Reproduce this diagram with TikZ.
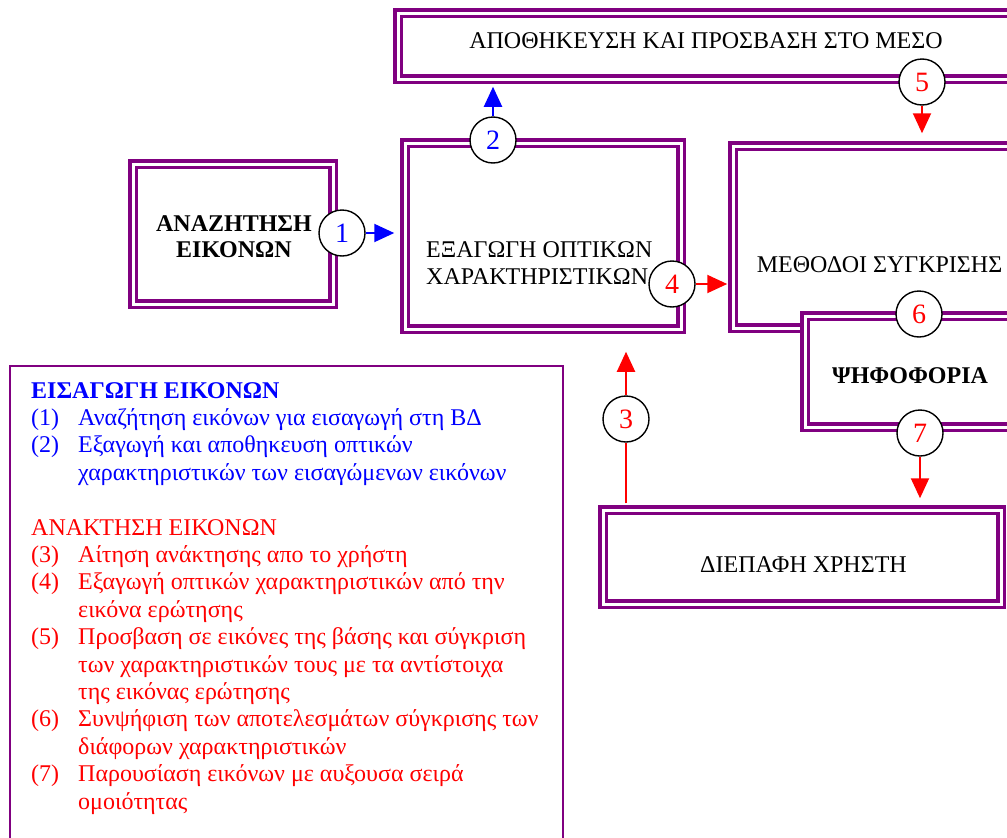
\documentclass[tikz,border=0pt]{standalone}
\usepackage{fontspec}
\setmainfont{Liberation Serif}
\usetikzlibrary{arrows.meta}

\definecolor{boxpurple}{RGB}{128,0,128}
\definecolor{flowblue}{RGB}{0,0,255}
\definecolor{flowred}{RGB}{255,0,0}

\begin{document}
\begin{tikzpicture}[x=1pt,y=-1pt,
    tribox/.style={draw=boxpurple,double=white,line width=3.5pt,
      double distance=3pt,fill=white,inner sep=0pt},
    boxtext/.style={font=\fontsize{24}{27}\selectfont,inner sep=0pt},
    numcirc/.style={circle,draw=black,line width=1.4pt,fill=white,
      minimum size=46pt,inner sep=0pt,font=\fontsize{28}{28}\selectfont},
    legtext/.style={anchor=base west,inner sep=0pt,
      font=\fontsize{24}{27}\selectfont},
    blueflow/.style={flowblue,line width=2pt,-{Triangle[width=18pt,length=20pt]}},
    redflow/.style={flowred,line width=2pt,-{Triangle[width=18pt,length=20pt]}}]
    \useasboundingbox (0,0) rectangle (1007,838);
    \clip (0,0) rectangle (1007,838);

    % boxes
    \node[tribox,minimum width=620pt,minimum height=66pt] (store) at (708,46) {};
    \node[tribox,minimum width=200pt,minimum height=140pt] (search) at (233,234) {};
    \node[tribox,minimum width=276pt,minimum height=186pt] (extract) at (543,236) {};
    \node[tribox,minimum width=293pt,minimum height=182pt] (compare) at (879.5,237) {};
    \node[tribox,minimum width=210pt,minimum height=111pt] (vote) at (910,371.5) {};
    \node[tribox,minimum width=398pt,minimum height=94pt] (ui) at (802,557) {};

    \node[boxtext] (storetxt) at (706,40.5) {ΑΠΟΘΗΚΕΥΣΗ ΚΑΙ ΠΡΟΣΒΑΣΗ ΣΤΟ ΜΕΣΟ};
    \node[boxtext,align=center,font=\fontsize{24}{26}\selectfont\bfseries]
      (searchtxt) at (234,236.5) {ΑΝΑΖΗΤΗΣΗ\\ΕΙΚΟΝΩΝ};
    \node[boxtext,align=left,anchor=west] (extracttxt) at (426,263.5)
      {ΕΞΑΓΩΓΗ ΟΠΤΙΚΩΝ\\ΧΑΡΑΚΤΗΡΙΣΤΙΚΩΝ};
    \node[boxtext] (comparetxt) at (879.5,265) {ΜΕΘΟΔΟΙ ΣΥΓΚΡΙΣΗΣ};
    \node[boxtext,font=\fontsize{24}{27}\selectfont\bfseries] (votetxt) at (910,376) {ΨΗΦΟΦΟΡΙΑ};
    \node[boxtext] (uitxt) at (803.5,564.5) {ΔΙΕΠΑΦΗ ΧΡΗΣΤΗ};

    % numbered steps
    \node[numcirc,text=flowblue] (c1) at (342,233) {1};
    \node[numcirc,text=flowblue] (c2) at (493,140) {2};
    \node[numcirc,text=flowred] (c3) at (626,419) {3};
    \node[numcirc,text=flowred] (c4) at (672,284) {4};
    \node[numcirc,text=flowred] (c5) at (922,82) {5};
    \node[numcirc,text=flowred] (c6) at (919,314) {6};
    \node[numcirc,text=flowred] (c7) at (920,433) {7};

    \draw[blueflow,shorten >=9pt] (c1) -- (c1 -| extract.west);
    \draw[blueflow,shorten >=6pt] (c2) -- (c2 |- store.south);
    \draw[flowred,line width=2pt,shorten <=5pt] (c3 |- ui.north) -- (c3);
    \draw[redflow,shorten >=21pt] (c3) -- (c3 |- extract.south);
    \draw[redflow,shorten >=4pt] (c4) -- (c4 -| compare.west);
    \draw[redflow,shorten >=11pt] (c5) -- (c5 |- compare.north);
    \draw[redflow,shorten >=10pt] (c7) -- (c7 |- ui.north);

    % legend
    \node[draw=boxpurple,line width=2pt,anchor=north west,
      minimum width=553pt,minimum height=500pt] (legend) at (9,365) {};
    \node[legtext,text=flowblue,font=\fontsize{24}{27}\selectfont\bfseries]
      (legtitle1) at (31,398) {ΕΙΣΑΓΩΓΗ ΕΙΚΟΝΩΝ};
    \node[legtext,text=flowred] (legtitle2) at (31,398+5*27.4) {ΑΝΑΚΤΗΣΗ ΕΙΚΟΝΩΝ};
    \foreach \row/\txt in {1/Αναζήτηση εικόνων για εισαγωγή στη ΒΔ,
        2/Εξαγωγή και αποθηκευση οπτικών,
        3/χαρακτηριστικών των εισαγώμενων εικόνων}
      \node[legtext,text=flowblue] (line\row) at (78,398+\row*27.4) {\txt};
    \foreach \row/\txt in {6/Αίτηση ανάκτησης απο το χρήστη,
        7/Εξαγωγή οπτικών χαρακτηριστικών από την,
        8/εικόνα ερώτησης,
        9/Προσβαση σε εικόνες της βάσης και σύγκριση,
        10/των χαρακτηριστικών τους με τα αντίστοιχα,
        11/της εικόνας ερώτησης,
        12/Συνψήφιση των αποτελεσμάτων σύγκρισης των,
        13/διάφορων χαρακτηριστικών,
        14/Παρουσίαση εικόνων με αυξουσα σειρά,
        15/ομοιότητας}
      \node[legtext,text=flowred] (line\row) at (78,398+\row*27.4) {\txt};
    \foreach \row/\n in {1/1,2/2}
      \node[legtext,text=flowblue] (num\n) at (31,398+\row*27.4) {(\n)};
    \foreach \row/\n in {6/3,7/4,9/5,12/6,14/7}
      \node[legtext,text=flowred] (num\n) at (31,398+\row*27.4) {(\n)};
\end{tikzpicture}
\end{document}
